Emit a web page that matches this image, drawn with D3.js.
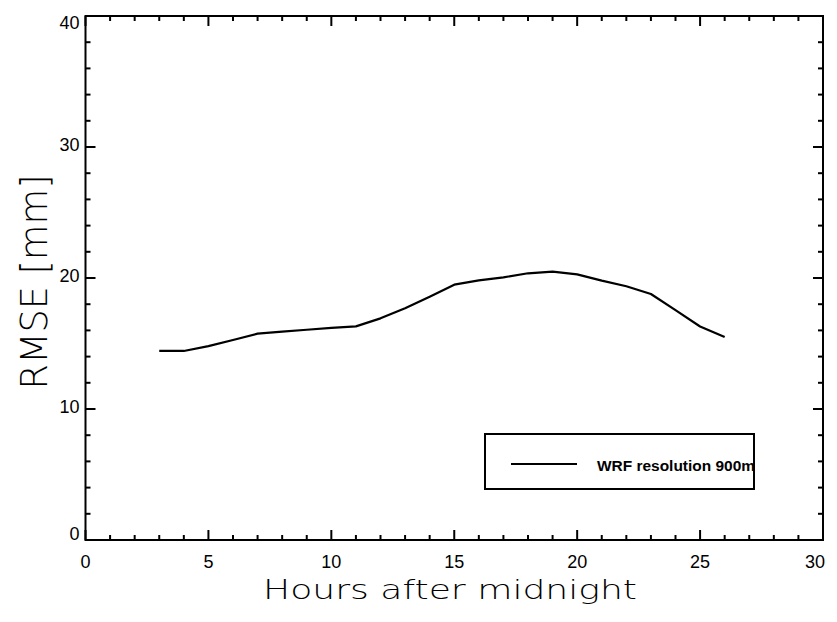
<!DOCTYPE html>
<html>
<head>
<meta charset="utf-8">
<script src="https://cdn.jsdelivr.net/npm/d3@7"></script>
<style>
  html, body { margin: 0; padding: 0; background: #fff; }
  svg { display: block; }
</style>
</head>
<body>
<svg id="chart" width="837" height="622"></svg>
<script>
const hours = [3, 4, 5, 6, 7, 8, 9, 10, 11, 12, 13, 14, 15, 16, 17, 18, 19, 20, 21, 22, 23, 24, 25, 26];
const rmse = [14.43, 14.43, 14.8, 15.27, 15.75, 15.9, 16.05, 16.2, 16.31, 16.92, 17.69, 18.57, 19.49, 19.82, 20.05, 20.36, 20.48, 20.28, 19.8, 19.37, 18.78, 17.55, 16.3, 15.5];
const xTicks = [0, 5, 10, 15, 20, 25, 30];
const yTicks = [0, 10, 20, 30, 40];
const seriesName = "WRF resolution 900m";
const xTitle = "Hours after midnight";
const yTitle = "RMSE [mm]";

const svg = d3.select("#chart");
const L = 85.5, R = 823, T = 16, B = 540;
const x = d3.scaleLinear().domain([0, 30]).range([L, R]);
const y = d3.scaleLinear().domain([0, 40]).range([B, T]);
const font = "'Liberation Sans', Arial, sans-serif";

// minor ticks
const xMinor = d3.range(0, 31, 1).filter(v => v % 5 !== 0);
const yMinor = d3.range(0, 41, 2).filter(v => v % 10 !== 0);
const tk = svg.append("g").attr("stroke", "#000").attr("stroke-width", 2);
xMinor.forEach(v => {
  tk.append("line").attr("x1", x(v)).attr("x2", x(v)).attr("y1", B).attr("y2", B - 5);
  tk.append("line").attr("x1", x(v)).attr("x2", x(v)).attr("y1", T).attr("y2", T + 5);
});
xTicks.forEach(v => {
  tk.append("line").attr("x1", x(v)).attr("x2", x(v)).attr("y1", B).attr("y2", B - 10);
  tk.append("line").attr("x1", x(v)).attr("x2", x(v)).attr("y1", T).attr("y2", T + 10);
});
yMinor.forEach(v => {
  tk.append("line").attr("y1", y(v)).attr("y2", y(v)).attr("x1", L).attr("x2", L + 5);
  tk.append("line").attr("y1", y(v)).attr("y2", y(v)).attr("x1", R).attr("x2", R - 5);
});
yTicks.forEach(v => {
  tk.append("line").attr("y1", y(v)).attr("y2", y(v)).attr("x1", L).attr("x2", L + 10);
  tk.append("line").attr("y1", y(v)).attr("y2", y(v)).attr("x1", R).attr("x2", R - 10);
});

// frame
svg.append("rect").attr("x", L).attr("y", T).attr("width", R - L).attr("height", B - T)
  .attr("fill", "none").attr("stroke", "#000").attr("stroke-width", 2);

// x tick labels
svg.append("g").selectAll("text").data(xTicks).join("text")
  .attr("x", d => x(d) + (d === 30 ? 2 : 0))
  .attr("y", B + 28)
  .attr("text-anchor", d => d === 30 ? "end" : "middle")
  .attr("font-family", font).attr("font-size", 18).attr("fill", "#000")
  .text(d => d);

// y tick labels
svg.append("g").selectAll("text").data(yTicks).join("text")
  .attr("x", L - 6)
  .attr("y", d => y(d))
  .attr("dy", d => d === 0 ? 0 : (d === 40 ? 13 : 4))
  .attr("text-anchor", "end")
  .attr("font-family", font).attr("font-size", 18).attr("fill", "#000")
  .text(d => d);

// line
const line = d3.line().x((d, i) => x(hours[i])).y(d => y(d));
svg.append("path").datum(rmse).attr("d", line)
  .attr("fill", "none").attr("stroke", "#000").attr("stroke-width", 2.2)
  .attr("stroke-linejoin", "round");

// legend
const lg = svg.append("g");
lg.append("rect").attr("x", 485).attr("y", 434).attr("width", 269).attr("height", 55)
  .attr("fill", "#fff").attr("stroke", "#000").attr("stroke-width", 2);
lg.append("line").attr("x1", 511).attr("x2", 577).attr("y1", 464).attr("y2", 464)
  .attr("stroke", "#000").attr("stroke-width", 2);
lg.append("clipPath").attr("id", "lgclip").append("rect")
  .attr("x", 485).attr("y", 434).attr("width", 269).attr("height", 55);
lg.append("text").attr("x", 597).attr("y", 471).attr("clip-path", "url(#lgclip)")
  .attr("font-family", font).attr("font-size", 14).attr("font-weight", "bold")
  .attr("textLength", 158).attr("lengthAdjust", "spacingAndGlyphs")
  .text(seriesName);

// axis titles
svg.append("text").attr("x", 450).attr("y", 599).attr("text-anchor", "middle")
  .attr("font-family", "'DejaVu Sans', sans-serif").attr("font-weight", 200).attr("font-size", 27)
  .attr("textLength", 374).attr("lengthAdjust", "spacingAndGlyphs")
  .text(xTitle);
svg.append("text").attr("transform", "translate(47,282) rotate(-90)").attr("text-anchor", "middle")
  .attr("font-family", "'DejaVu Sans', sans-serif").attr("font-weight", 200).attr("font-size", 38)
  .attr("textLength", 215).attr("lengthAdjust", "spacingAndGlyphs")
  .text(yTitle);
</script>
</body>
</html>
